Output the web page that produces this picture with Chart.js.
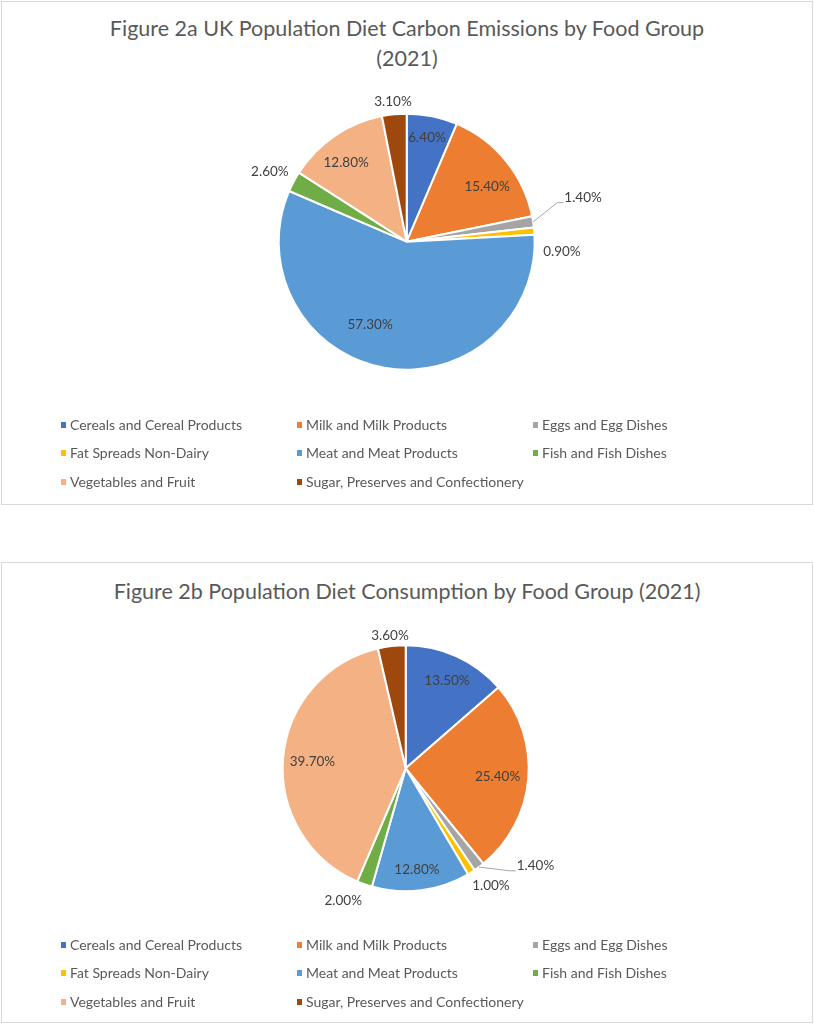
<!DOCTYPE html>
<html><head><meta charset="utf-8">
<script src="https://cdn.jsdelivr.net/npm/chart.js@4.4.0/dist/chart.umd.min.js"></script>
<style>
html,body{margin:0;padding:0;background:#fff;}
body{width:814px;height:1024px;position:relative;overflow:hidden;font-family:Lato,"Open Sans",sans-serif;}
.box{position:absolute;left:1px;width:810px;border:1px solid #d9d9d9;box-sizing:content-box;}
.wrap{position:absolute;left:0;width:814px;}
.title{position:absolute;left:0;width:814px;text-align:center;color:#595959;font-size:21.5px;line-height:30px;}
.item{position:absolute;font-size:14px;color:#595959;white-space:nowrap;line-height:16px;}
.sw{position:absolute;width:5px;height:6px;}
</style></head>
<body>
<div class="box" style="top:1px;height:502px;"></div>
<div class="box" style="top:562px;height:459px;"></div>

<div class="title" id="t1" style="top:13px;"></div>
<div class="title" id="t2" style="top:576px;"></div>

<div class="wrap" style="top:0;height:506px;"><canvas id="c1"></canvas></div>
<div class="wrap" style="top:560px;height:464px;"><canvas id="c2"></canvas></div>
<div id="leg1"></div>
<div id="leg2"></div>

<script>
// ---- data ----
const categories = ["Cereals and Cereal Products","Milk and Milk Products","Eggs and Egg Dishes","Fat Spreads Non-Dairy","Meat and Meat Products","Fish and Fish Dishes","Vegetables and Fruit","Sugar, Preserves and Confectionery"];
const emissions2021 = [6.4, 15.4, 1.4, 0.9, 57.3, 2.6, 12.8, 3.1];
const consumption2021 = [13.5, 25.4, 1.4, 1.0, 12.8, 2.0, 39.7, 3.6];
const title1 = ["Figure 2a UK Population Diet Carbon Emissions by Food Group", "(2021)"];
const title2 = ["Figure 2b Population Diet Consumption by Food Group (2021)"];

// ---- styles ----
const colors = ["#4472C4","#ED7D31","#A5A5A5","#FFC000","#5B9BD5","#70AD47","#F4B183","#9E480E"];
// label placement: da = degrees offset from slice mid-angle, k = fraction of radius
const place1 = [{da:-0.5,k:0.83},{da:4.9,k:0.76},{da:-5.1,k:1.42,leader:true},{da:8.4,k:1.215},{da:13.7,k:0.71},{da:-1,k:1.2},{da:-3.1,k:0.78},{da:0,k:1.10}];
const place2 = [{da:0.7,k:0.79},{da:0.3,k:0.75},{da:-16.5,k:1.32,leader:true},{da:-3.7,k:1.18},{da:0.9,k:0.83},{da:5.7,k:1.19},{da:-1,k:0.76},{da:-0.2,k:1.09}];

document.getElementById('t1').innerHTML = title1.join('<br>');
document.getElementById('t2').innerHTML = title2.join('<br>');

function buildLegend(id, top){
  const el = document.getElementById(id);
  const colX = [70, 306, 542];
  const rowGap = 28.5;
  categories.forEach((c,i)=>{
    const col = i%3, row = Math.floor(i/3);
    const y = top + row*rowGap;
    const sw = document.createElement('div');
    sw.className='sw'; sw.style.background=colors[i];
    sw.style.left=(colX[col]-9)+'px'; sw.style.top=(y-3)+'px';
    el.appendChild(sw);
    const t = document.createElement('div');
    t.className='item'; t.textContent=c;
    t.style.left=colX[col]+'px'; t.style.top=(y-8)+'px';
    el.appendChild(t);
  });
}
buildLegend('leg1', 424.5);
buildLegend('leg2', 944.5);

const labelPlugin = {
  id:'pieLabels',
  afterDatasetsDraw(chart, args, opts){
    const ctx = chart.ctx;
    const ds = chart.data.datasets[0];
    const meta = chart.getDatasetMeta(0);
    ctx.save();
    ctx.font = '13.5px Lato, "Open Sans", sans-serif';
    ctx.fillStyle = '#404040';
    ctx.textAlign = 'center';
    ctx.textBaseline = 'middle';
    meta.data.forEach((arc,i)=>{
      const p = opts.place[i];
      const {x,y,startAngle,endAngle,outerRadius} = arc.getProps(['x','y','startAngle','endAngle','outerRadius'], true);
      const mid = (startAngle+endAngle)/2;
      const a = mid + p.da*Math.PI/180;
      const lx = x + Math.cos(a)*outerRadius*p.k;
      const ly = y + Math.sin(a)*outerRadius*p.k;
      const txt = ds.data[i].toFixed(2)+'%';
      if(p.leader){
        const w = ctx.measureText(txt).width;
        const left = lx - w/2;
        const ex = x + Math.cos(mid)*outerRadius, ey = y + Math.sin(mid)*outerRadius;
        ctx.strokeStyle = '#a6a6a6'; ctx.lineWidth = 1;
        ctx.beginPath();
        ctx.moveTo(ex, ey);
        ctx.lineTo(left-7, ly+5);
        ctx.lineTo(left-1, ly+5);
        ctx.stroke();
      }
      ctx.fillText(txt, lx, ly);
    });
    ctx.restore();
  }
};

function makePie(id, data, place, pad){
  new Chart(document.getElementById(id), {
    type:'pie',
    data:{labels:categories, datasets:[{data:data, backgroundColor:colors, borderColor:'#ffffff', borderWidth:2, hoverOffset:0}]},
    options:{
      responsive:true, maintainAspectRatio:false, animation:false,
      layout:{padding:pad},
      plugins:{legend:{display:false}, tooltip:{enabled:false}, title:{display:false}, pieLabels:{place:place}}
    },
    plugins:[labelPlugin]
  });
}
makePie('c1', emissions2021, place1, {top:112.7, bottom:135.3, left:0, right:0.6});
makePie('c2', consumption2021, place2, {top:84.3, bottom:131.7, left:0, right:2.6});
</script>
</body></html>
